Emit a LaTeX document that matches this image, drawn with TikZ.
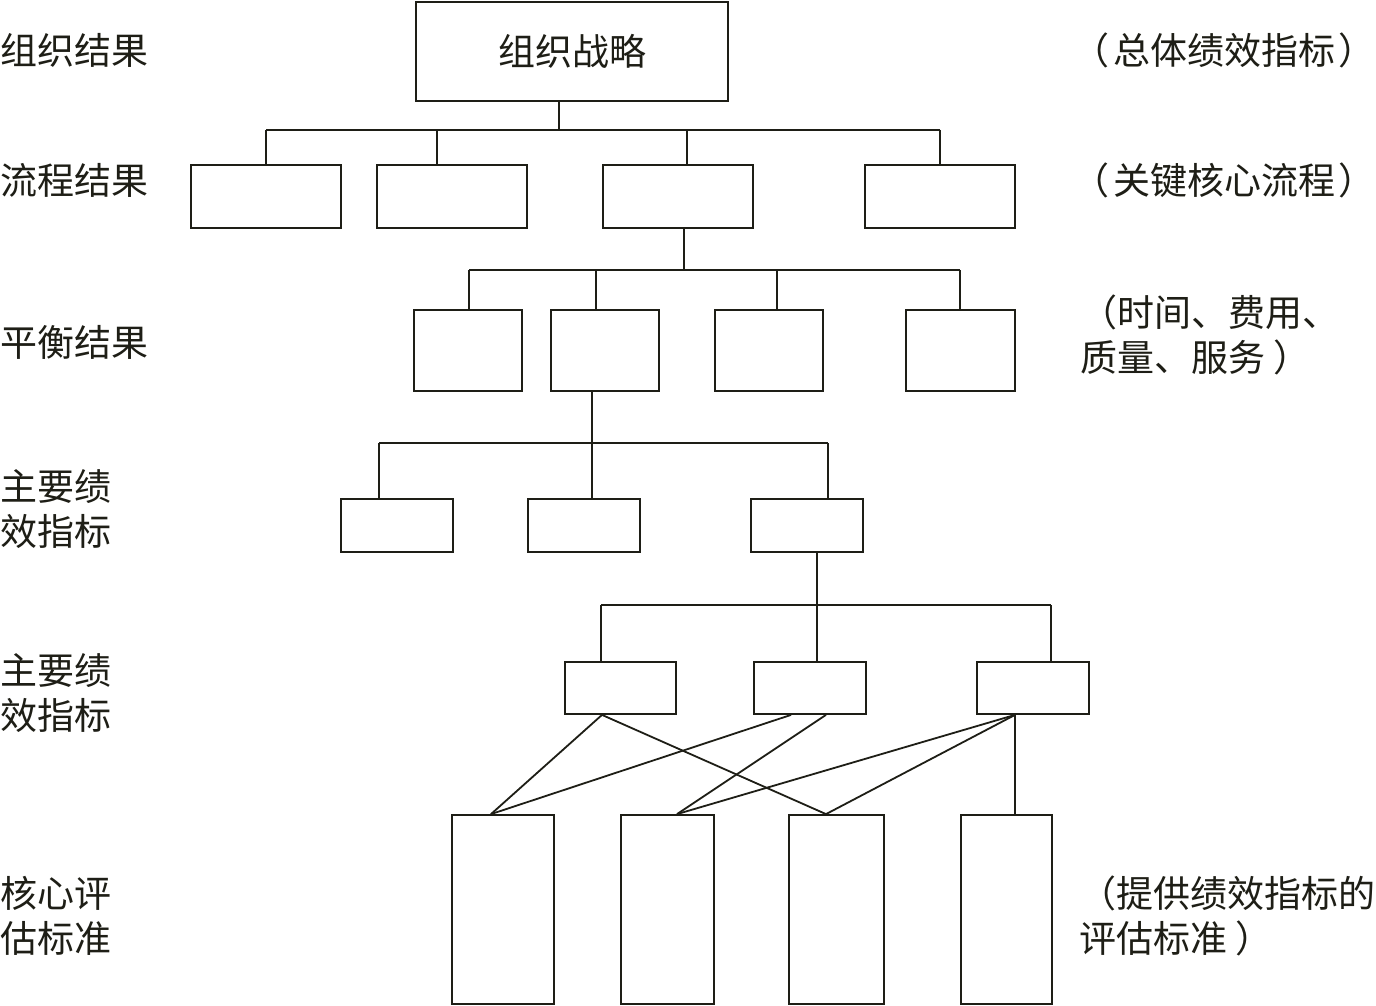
\documentclass[tikz,border=0pt]{standalone}
\usepackage{fontspec}
\newfontfamily\cjk{Noto Sans CJK SC}
\definecolor{ink}{HTML}{1E1E16}
\begin{document}
\begin{tikzpicture}[x=1pt,y=-1pt,
  every path/.style={draw=ink, line width=1.8pt},
  box/.style={draw=ink, line width=1.8pt, inner sep=0pt, minimum width=#1},
  lbl/.style={anchor=west, inner sep=0pt, text=ink, font=\cjk\fontsize{37}{45}\selectfont, align=left}]
\useasboundingbox[fill=white, draw=none] (0,0) rectangle (1376,1006);
% top
\node[box=312pt, minimum height=99pt, font=\cjk\fontsize{37}{45}\selectfont, text=ink] (top) at (572,51.5) {组织战略};
% row 2
\node[box=150pt, minimum height=63pt] (a1) at (266,196.5) {};
\node[box=150pt, minimum height=63pt] (a2) at (452,196.5) {};
\node[box=150pt, minimum height=63pt] (a3) at (678,196.5) {};
\node[box=150pt, minimum height=63pt] (a4) at (940,196.5) {};
% row 3
\node[box=108pt, minimum height=81pt] (b1) at (468,350.5) {};
\node[box=108pt, minimum height=81pt] (b2) at (605,350.5) {};
\node[box=108pt, minimum height=81pt] (b3) at (769,350.5) {};
\node[box=109pt, minimum height=81pt] (b4) at (960.5,350.5) {};
% row 4
\node[box=112pt, minimum height=53pt] (c1) at (397,525.5) {};
\node[box=112pt, minimum height=53pt] (c2) at (584,525.5) {};
\node[box=112pt, minimum height=53pt] (c3) at (807,525.5) {};
% row 5
\node[box=111pt, minimum height=52pt] (d1) at (620.5,688) {};
\node[box=112pt, minimum height=52pt] (d2) at (810,688) {};
\node[box=112pt, minimum height=52pt] (d3) at (1033,688) {};
% row 6
\node[box=102pt, minimum height=189pt] (e1) at (503,909.5) {};
\node[box=93pt, minimum height=189pt] (e2) at (667.5,909.5) {};
\node[box=95pt, minimum height=189pt] (e3) at (836.5,909.5) {};
\node[box=91pt, minimum height=189pt] (e4) at (1006.5,909.5) {};

% tree level 1
\coordinate (j0) at (559,130);
\coordinate (h1) at (266,130); \coordinate (h2) at (437,130);
\coordinate (h3) at (687,130); \coordinate (h4) at (940,130);
\draw (top.south -| j0) -- (j0);
\draw (h1) -- (h4);
\draw (h1) -- (h1 |- a1.north);
\draw (h2) -- (h2 |- a2.north);
\draw (h3) -- (h3 |- a3.north);
\draw (h4) -- (h4 |- a4.north);
% level 2
\coordinate (k0) at (684,270);
\coordinate (k1) at (469,270); \coordinate (k2) at (596,270);
\coordinate (k3) at (777,270); \coordinate (k4) at (960,270);
\draw (a3.south -| k0) -- (k0);
\draw (k1) -- (k4);
\draw (k1) -- (k1 |- b1.north);
\draw (k2) -- (k2 |- b2.north);
\draw (k3) -- (k3 |- b3.north);
\draw (k4) -- (k4 |- b4.north);
% level 3
\coordinate (m0) at (592,443);
\coordinate (m1) at (379,443); \coordinate (m3) at (828,443);
\draw (b2.south -| m0) -- (m0);
\draw (m1) -- (m3);
\draw (m1) -- (m1 |- c1.north);
\draw (m0) -- (m0 |- c2.north);
\draw (m3) -- (m3 |- c3.north);
% level 4
\coordinate (n0) at (817,605);
\coordinate (n1) at (601,605); \coordinate (n3) at (1051,605);
\draw (c3.south -| n0) -- (n0);
\draw (n1) -- (n3);
\draw (n1) -- (n1 |- d1.north);
\draw (n0) -- (n0 |- d2.north);
\draw (n3) -- (n3 |- d3.north);
% crossing links
\coordinate (s1) at (602,0); \coordinate (s2) at (791,0);
\coordinate (s3) at (826,0); \coordinate (s4) at (1015,0);
\coordinate (t1) at (491,0); \coordinate (t2) at (677,0);
\coordinate (t3) at (826,0); \coordinate (t4) at (1015,0);
\draw (d1.south -| s1) -- (e1.north -| t1);
\draw (d1.south -| s1) -- (e3.north -| t3);
\draw (d2.south -| s2) -- (e1.north -| t1);
\draw (d2.south -| s3) -- (e2.north -| t2);
\draw (d3.south -| s4) -- (e2.north -| t2);
\draw (d3.south -| s4) -- (e3.north -| t3);
\draw (d3.south -| s4) -- (e4.north -| t4);

% left labels
\node[lbl] (l1) at (0,50) {组织结果};
\node[lbl] (l2) at (0,180) {流程结果};
\node[lbl] (l3) at (0,342) {平衡结果};
\node[lbl] (l4) at (0,509) {主要绩\\效指标};
\node[lbl] (l5) at (0,693) {主要绩\\效指标};
\node[lbl] (l6) at (0,916) {核心评\\估标准};
% right labels
\node[lbl] (r1) at (1072,50) {（\kern4pt总体绩效指标\kern3pt）};
\node[lbl] (r2) at (1072,180) {（\kern4pt关键核心流程\kern3pt）};
\node[lbl] (r3) at (1080,335) {（时间、费用、\\质量、服务\kern8pt）};
\node[lbl] (r4) at (1079,916) {（提供绩效指标的\\评估标准\kern8pt）};
\end{tikzpicture}
\end{document}
